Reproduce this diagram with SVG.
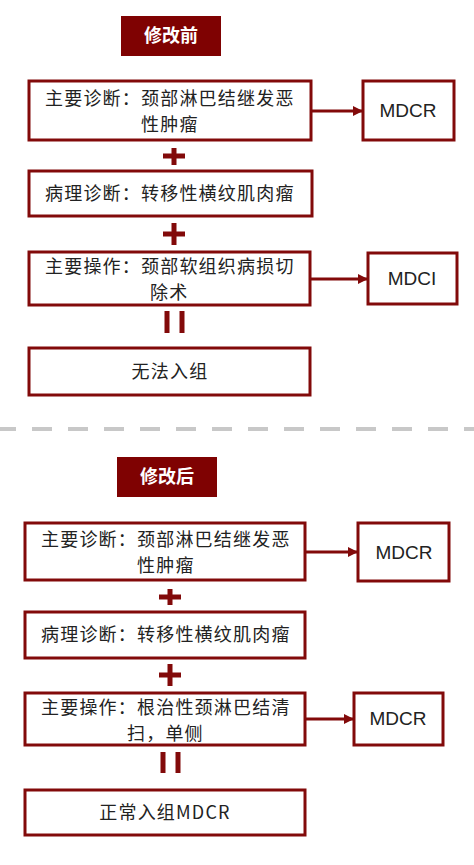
<svg xmlns="http://www.w3.org/2000/svg" width="474" height="865" viewBox="0 0 474 865">
<style>
.box{fill:#fff;stroke:#820a0a;stroke-width:3}
.hdr{fill:#7f0202}
.ht{font-family:"Noto Sans CJK SC","Noto Sans",sans-serif;font-size:18px;fill:#fff;font-weight:bold;text-anchor:middle}
.t{font-family:"Noto Sans CJK SC","Noto Sans",sans-serif;font-size:18px;letter-spacing:1.2px;fill:#222}
.c{text-anchor:middle}
.m{font-family:"Liberation Sans","Noto Sans CJK SC",sans-serif;font-size:19px;fill:#222;text-anchor:middle}
.cn{stroke:#820a0a;stroke-width:3;fill:none}
.op{stroke:#820a0a;stroke-width:5;fill:none}
</style>
<defs>
<marker id="ah" markerWidth="10" markerHeight="10" refX="9" refY="5" orient="auto" markerUnits="userSpaceOnUse">
<path d="M0,0 L10,5 L0,10 Z" fill="#820a0a"/>
</marker>
</defs>
<rect width="474" height="865" fill="#fff"/>

<g id="hdr1"><rect class="hdr" x="121" y="16" width="100" height="40"/><text class="ht" x="171" y="42">修改前</text></g>
<g id="n1"><rect class="box" x="29" y="81" width="282" height="59"/><text class="t" x="45" y="105">主要诊断：颈部淋巴结继发恶<tspan x="141" y="131">性肿瘤</tspan></text></g>
<g id="n1r"><rect class="box" x="363" y="81" width="91" height="59"/><text class="m" x="408" y="117">MDCR</text></g>
<g id="n2"><rect class="box" x="29" y="171" width="283" height="45"/><text class="t" x="45" y="200">病理诊断：转移性横纹肌肉瘤</text></g>
<g id="n3"><rect class="box" x="29" y="252" width="281" height="53"/><text class="t" x="45" y="273">主要操作：颈部软组织病损切<tspan x="150" y="299">除术</tspan></text></g>
<g id="n3r"><rect class="box" x="368" y="253" width="89" height="51"/><text class="m" x="412" y="285">MDCI</text></g>
<g id="n4"><rect class="box" x="29" y="348" width="281" height="47"/><text class="t c" x="170" y="378">无法入组</text></g>

<g id="hdr2"><rect class="hdr" x="117" y="457" width="100" height="40"/><text class="ht" x="167" y="483">修改后</text></g>
<g id="n5"><rect class="box" x="25" y="523" width="280" height="57"/><text class="t" x="41" y="546">主要诊断：颈部淋巴结继发恶<tspan x="137" y="572">性肿瘤</tspan></text></g>
<g id="n5r"><rect class="box" x="358" y="523" width="91" height="58"/><text class="m" x="404" y="559">MDCR</text></g>
<g id="n6"><rect class="box" x="25" y="612" width="280" height="46"/><text class="t" x="41" y="641">病理诊断：转移性横纹肌肉瘤</text></g>
<g id="n7"><rect class="box" x="25" y="693" width="280" height="52"/><text class="t" x="41" y="714">主要操作：根治性颈淋巴结清<tspan x="127" y="740">扫，单侧</tspan></text></g>
<g id="n7r"><rect class="box" x="354" y="693" width="89" height="52"/><text class="m" x="398" y="725">MDCR</text></g>
<g id="n8"><rect class="box" x="25" y="790" width="280" height="45"/><text class="t c" x="165" y="819">正常入组MDCR</text></g>

<g id="connectors">
<line class="cn" x1="311" y1="111" x2="362" y2="111" marker-end="url(#ah)"/>
<line class="cn" x1="310" y1="279" x2="367" y2="279" marker-end="url(#ah)"/>
<line class="cn" x1="305" y1="552" x2="357" y2="552" marker-end="url(#ah)"/>
<line class="cn" x1="305" y1="719" x2="353" y2="719" marker-end="url(#ah)"/>
<path class="op" d="M174,148 V165 M163,156 H185"/>
<path class="op" d="M174,223 V245 M163,234 H185"/>
<path class="op" d="M167,311 V333 M182,311 V333"/>
<path class="op" d="M170,589 V605 M159,597 H181"/>
<path class="op" d="M170,664 V686 M159,675 H181"/>
<path class="op" d="M163,752 V773 M178,752 V773"/>
</g>
<line x1="-4" y1="429" x2="474" y2="429" stroke="#c8c8c8" stroke-width="4" stroke-dasharray="20 16"/>
</svg>
